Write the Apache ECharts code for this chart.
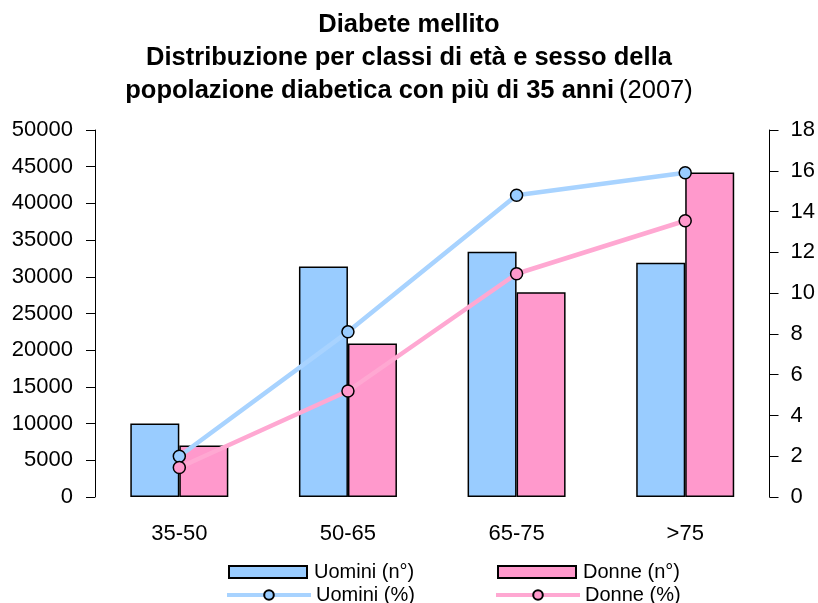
<!DOCTYPE html>
<html>
<head>
<meta charset="utf-8">
<script src="https://cdn.jsdelivr.net/npm/echarts@6/dist/echarts.min.js"></script>
<style>
  html, body { margin: 0; padding: 0; background: #fff; }
  #chart { width: 818px; height: 603px; }
</style>
</head>
<body>
<div id="chart"></div>
<script>
// classi di età
const categories = ['35-50', '50-65', '65-75', '>75']
// numero di diabetici
const uominiN = [10000, 31400, 33400, 31900]
const donneN = [7000, 20900, 27900, 44200]
// percentuale
const uominiPct = [2.0, 8.1, 14.8, 15.9]
const donnePct = [1.45, 5.2, 10.95, 13.55]
// tick assi
const leftTicks = { min: 0, max: 50000, interval: 5000 }
const rightTicks = { min: 0, max: 18, interval: 2 }

const font = 'Liberation Sans, Arial, Helvetica, sans-serif'
const blue = '#99ccff'
const pink = '#ff99cc'
const blueLine = '#a8d3ff'
const pinkLine = '#ffa8d2'

let myChart = echarts.init(document.getElementById('chart'), null, { renderer: 'canvas' })

function legendAt(name, left, top, w, h, isLine) {
  let lg = {
    data: [{ name: name, icon: isLine ? undefined : 'rect' }],
    left: left,
    top: top,
    itemWidth: w,
    itemHeight: h,
    padding: 0,
    selectedMode: false,
    textStyle: { fontFamily: font, fontSize: 20, color: '#000', padding: [0, 0, 0, isLine ? 0 : 2] }
  }
  if (isLine) {
    lg.lineStyle = { width: 4 }
  }
  return lg
}

let option = {
  animation: false,
  backgroundColor: '#fff',
  textStyle: { fontFamily: font },
  title: {
    text: '{b|Diabete mellito}\n{b|Distribuzione per classi di età e sesso della}\n{b|popolazione diabetica con più di 35 anni} {n|(2007)}',
    left: 'center',
    top: 3,
    textStyle: {
      rich: {
        b: { fontFamily: font, fontSize: 25.5, fontWeight: 'bold', color: '#000', lineHeight: 33 },
        n: { fontFamily: font, fontSize: 25.5, fontWeight: 'normal', color: '#000', lineHeight: 33 }
      }
    }
  },
  legend: [
    legendAt('Uomini (n°)', 228, 562, 78, 12, false),
    legendAt('Donne (n°)', 497, 562, 78, 12, false),
    legendAt('Uomini (%)', 225, 585, 84, 12, true),
    legendAt('Donne (%)', 494, 585, 84, 12, true)
  ],
  grid: {
    left: 95,
    right: 47,
    top: 130,
    bottom: 106
  },
  xAxis: {
    type: 'category',
    data: categories,
    axisLine: { show: false },
    axisTick: { show: false },
    axisLabel: { fontFamily: font, fontSize: 22, color: '#000', margin: 26 }
  },
  yAxis: [
    {
      type: 'value',
      min: leftTicks.min,
      max: leftTicks.max,
      interval: leftTicks.interval,
      position: 'left',
      splitLine: { show: false },
      axisLine: { show: true, lineStyle: { color: '#000', width: 1 } },
      axisTick: { show: true, length: 9, lineStyle: { color: '#000' } },
      axisLabel: { fontFamily: font, fontSize: 22, color: '#000', margin: 22, formatter: v => String(v) }
    },
    {
      type: 'value',
      min: rightTicks.min,
      max: rightTicks.max,
      interval: rightTicks.interval,
      position: 'right',
      splitLine: { show: false },
      axisLine: { show: true, lineStyle: { color: '#000', width: 1 } },
      axisTick: { show: true, length: 9, lineStyle: { color: '#000' } },
      axisLabel: { fontFamily: font, fontSize: 22, color: '#000', margin: 21, formatter: v => String(v) }
    }
  ],
  series: [
    {
      name: 'Uomini (n°)',
      type: 'bar',
      yAxisIndex: 0,
      data: uominiN,
      barWidth: 49,
      barGap: '0%',
      itemStyle: { color: blue, borderColor: '#000', borderWidth: 1.5 }
    },
    {
      name: 'Donne (n°)',
      type: 'bar',
      yAxisIndex: 0,
      data: donneN,
      barWidth: 49,
      barGap: '0%',
      itemStyle: { color: pink, borderColor: '#000', borderWidth: 1.5 }
    },
    {
      name: 'Uomini (%)',
      type: 'line',
      yAxisIndex: 1,
      data: uominiPct,
      symbol: 'circle',
      symbolSize: 12,
      lineStyle: { color: blueLine, width: 4.5 },
      itemStyle: { color: blue, borderColor: '#000', borderWidth: 1.5 },
      z: 5
    },
    {
      name: 'Donne (%)',
      type: 'line',
      yAxisIndex: 1,
      data: donnePct,
      symbol: 'circle',
      symbolSize: 12,
      lineStyle: { color: pinkLine, width: 4.5 },
      itemStyle: { color: pink, borderColor: '#000', borderWidth: 1.5 },
      z: 5
    }
  ]
}
myChart.setOption(option)
</script>
</body>
</html>
